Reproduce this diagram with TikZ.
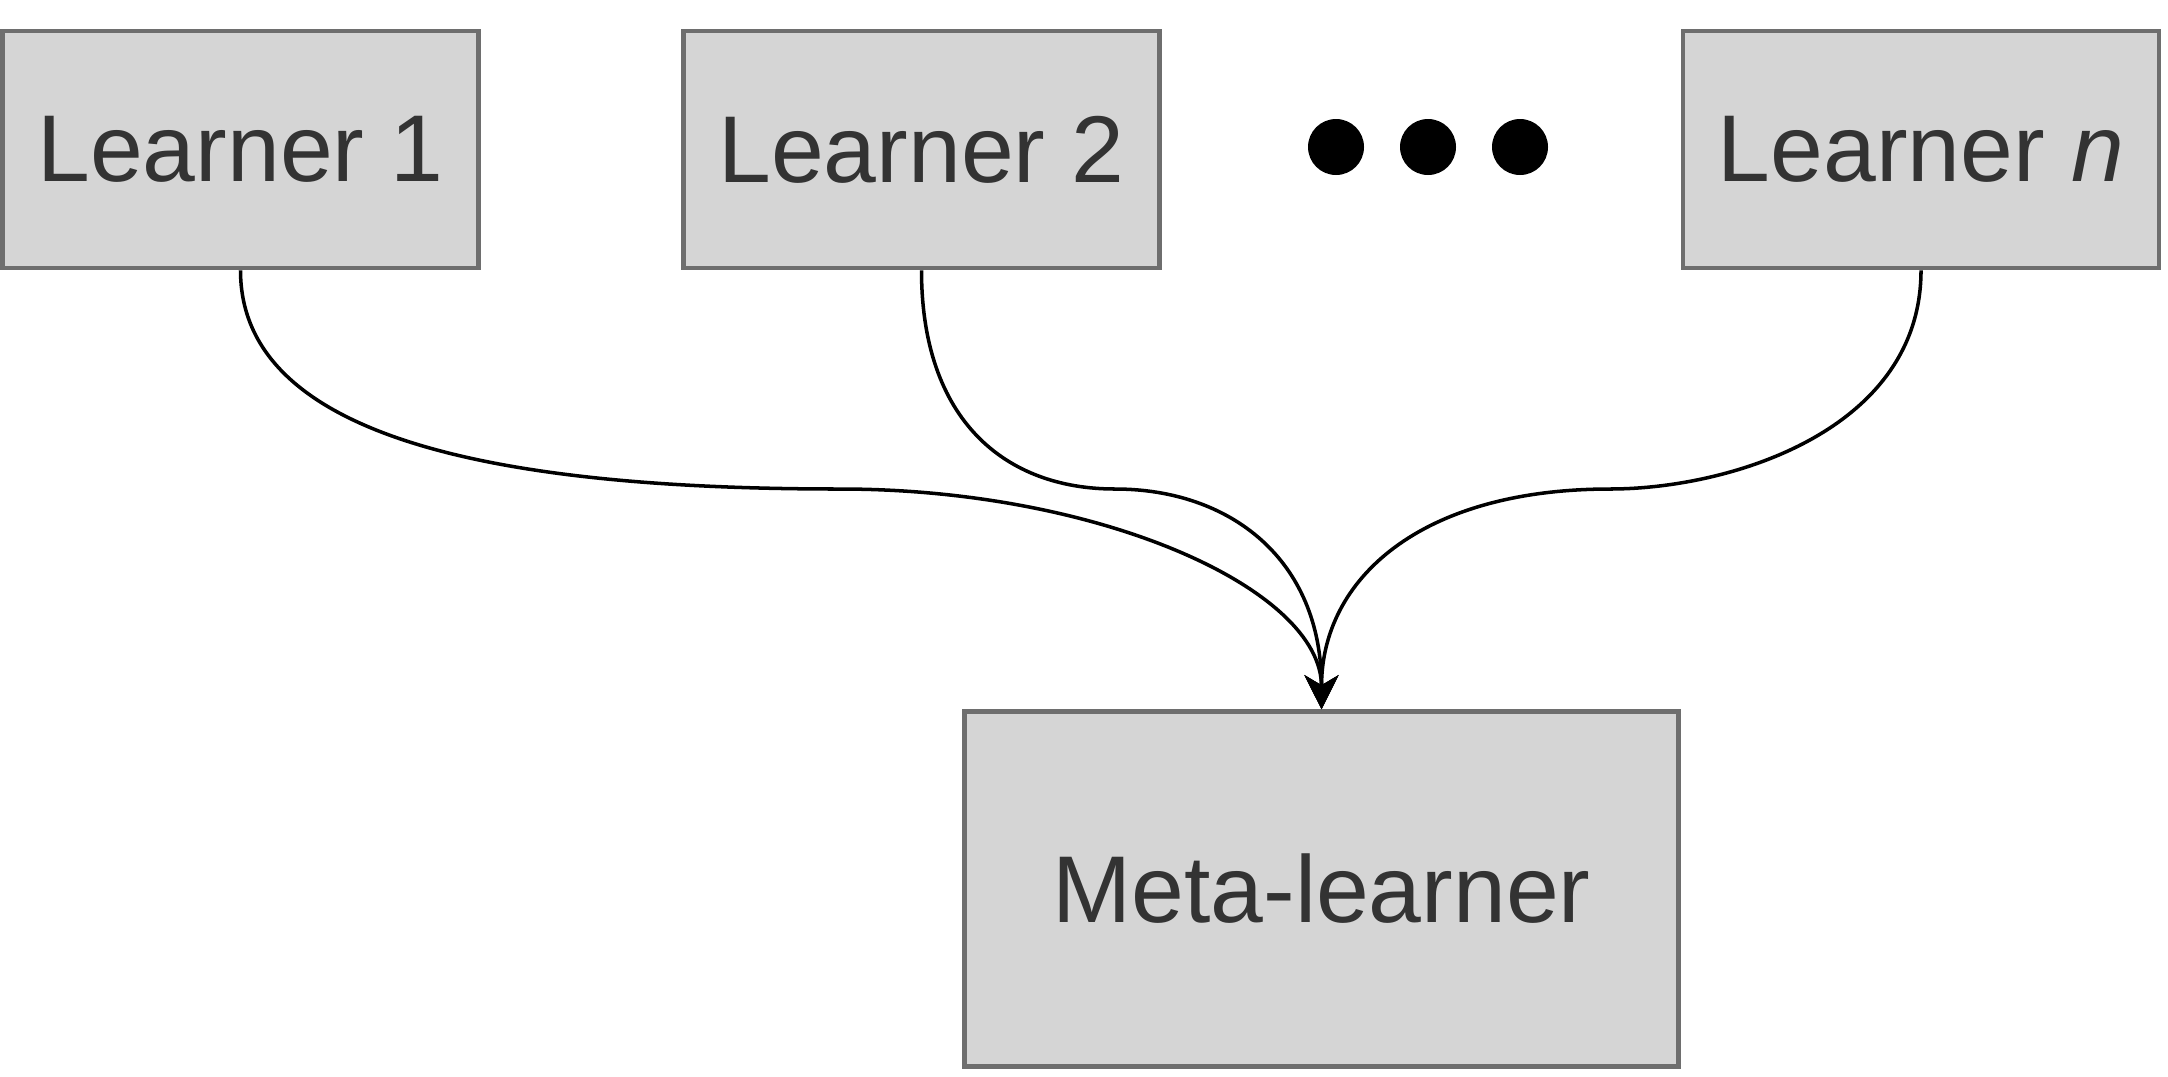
\documentclass[tikz,border=0pt]{standalone}
\usepackage{fontspec}
\setmainfont{Liberation Sans}
\usepackage{tikz}
\usetikzlibrary{arrows.meta}
\definecolor{boxfill}{HTML}{D5D5D5}
\definecolor{boxline}{HTML}{6E6E6E}
\definecolor{boxtext}{HTML}{333333}

\begin{document}
\begin{tikzpicture}[learner/.style={draw=boxline, fill=boxfill, line width=1.3pt, text=boxtext, font=\fontsize{27}{32}\selectfont, minimum width=4.76cm, minimum height=2.37cm, inner sep=0pt},
link/.style={line width=1pt, -{Stealth[length=0.34cm, width=0.34cm, inset=0.1cm]}}]
\useasboundingbox (0,0) rectangle (21.68,-10.76);
\node[learner] (l1) at (2.405,-1.495) {Learner 1};
\node[learner] (l2) at (9.215,-1.495) {Learner 2};
\node[learner] (ln) at (19.21,-1.495) {Learner \textit{n}};
\node[learner, minimum width=7.14cm, minimum height=3.55cm] (meta) at (13.215,-8.89) {Meta-learner};

\foreach \x in {13.36,14.28,15.20}
  \fill (\x,-1.47) circle (0.28);

\coordinate (w1) at (8.40,-4.89);
\coordinate (w2) at (11.15,-4.89);
\coordinate (wn) at (16.10,-4.89);

\draw[link] (l1.south) .. controls +(0,-1.75) and +(-3.2,0) .. (w1)
  .. controls +(2.6,0) and +(0,1.2) .. (meta.north);
\draw[link] (l2.south) .. controls +(0,-1.5) and +(-1.1,0) .. (w2)
  .. controls +(1.15,0) and +(0,1.5) .. (meta.north);
\draw[link] (ln.south) .. controls +(0,-1.6) and +(1.2,0) .. (wn)
  .. controls +(-1.9,0) and +(0,1.3) .. (meta.north);
\end{tikzpicture}
\end{document}
